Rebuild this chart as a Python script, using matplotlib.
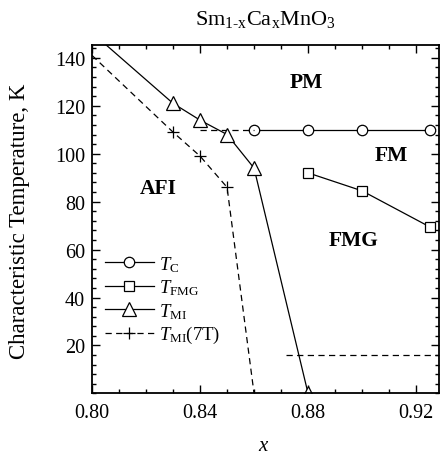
import numpy as np
import matplotlib
matplotlib.use("Agg")
import matplotlib.pyplot as plt
from matplotlib.ticker import MultipleLocator, FormatStrFormatter

plt.rcParams['font.family'] = ['Liberation Serif', 'DejaVu Serif']
plt.rcParams['mathtext.fontset'] = 'custom'
plt.rcParams['mathtext.rm'] = 'Liberation Serif'
plt.rcParams['mathtext.it'] = 'Liberation Serif:italic'

# ---- data ----
tc_x = [0.86, 0.88, 0.90, 0.925]
tc_y = [110, 110, 110, 110]
tc_dash_x = [0.84, 0.86]          # dashed extension of T_C
tc_dash_y = [110, 110]

fmg_x = [0.88, 0.90, 0.925]
fmg_y = [92, 84.5, 69.5]

mi_x = [0.80, 0.83, 0.84, 0.85, 0.86, 0.88]   # first point only sets the line
mi_y = [150.5, 121, 114, 108, 94, 0]

mi7_x = [0.80, 0.83, 0.84, 0.85, 0.86]
mi7_y = [141, 109, 99, 86, 0]

low_x = [0.872, 0.93]             # dashed line near bottom right
low_y = [16, 16]

regions = ["PM", "FM", "FMG", "AFI"]
region_x = [0.8795, 0.911, 0.897, 0.8245]
region_y = [130, 99.5, 64, 85.5]

fig = plt.figure(figsize=(4.41, 4.56), dpi=100)
ax = fig.add_axes([0.2086, 0.135, 0.787, 0.765])

lw = 0.9
dash = (0, (5, 3.5))
ax.plot(tc_x, tc_y, color='k', lw=lw, marker='o', ms=7.5, mfc='white', mec='k', mew=0.9,
        label=r'$T_{\mathrm{C}}$')
ax.plot(tc_dash_x, tc_dash_y, color='k', lw=lw, linestyle=dash)
ax.plot(fmg_x, fmg_y, color='k', lw=lw, marker='s', ms=7.3, mfc='white', mec='k', mew=0.9,
        label=r'$T_{\mathrm{FMG}}$')
ax.plot(mi_x, mi_y, color='k', lw=lw, marker='^', ms=10, mfc='white', mec='k', mew=0.9,
        markevery=list(range(1, len(mi_x))), label=r'$T_{\mathrm{MI}}$')
ax.plot(mi7_x, mi7_y, color='k', lw=lw, linestyle=dash, marker='+', ms=8, mew=0.9,
        markevery=[1, 2, 3], label=r'$T_{\mathrm{MI}}$(7T)')
ax.plot(low_x, low_y, color='k', lw=lw, linestyle=dash)

for name, rx, ry in zip(regions, region_x, region_y):
    ax.text(rx, ry, name, fontsize=15.5, fontweight='bold', ha='center', va='center')

ax.set_xlim(0.80, 0.9285)
ax.set_ylim(0, 145.5)
ax.xaxis.set_major_locator(MultipleLocator(0.04))
ax.xaxis.set_minor_locator(MultipleLocator(0.01))
ax.yaxis.set_minor_locator(MultipleLocator(4))
ax.set_yticks([20, 40, 60, 80, 100, 120, 140])
ax.xaxis.set_major_formatter(FormatStrFormatter('%.2f'))
ax.tick_params(which='both', direction='in', top=True, right=True, labelsize=14.5, width=1)
ax.tick_params(which='major', length=6, pad=5)
ax.tick_params(axis='x', which='major', pad=7)
ax.tick_params(which='minor', length=3)
for s in ax.spines.values():
    s.set_linewidth(1.3)

ax.set_xlabel(r'$x$', fontsize=15)
ax.xaxis.set_label_coords(0.495, -0.122)
ax.set_ylabel('Characteristic Temperature, K', fontsize=16.5)
ax.yaxis.set_label_coords(-0.178, 0.495)
ax.set_title(r'Sm$_{\mathrm{1\text{-}x}}$Ca$_{\mathrm{x}}$MnO$_{\mathrm{3}}$', fontsize=16, pad=15)

ax.legend(loc='lower left', bbox_to_anchor=(0.0, 0.1), frameon=False, fontsize=13.5,
          handlelength=2.6, labelspacing=0.2, handletextpad=0.3, borderaxespad=0.3)

fig.savefig('out.png', dpi=100)
